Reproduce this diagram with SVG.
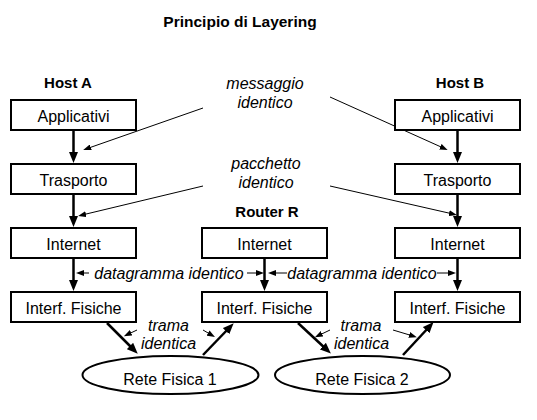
<svg xmlns="http://www.w3.org/2000/svg" width="537" height="420" viewBox="0 0 537 420">
<style>
.box{fill:#fff;stroke:#000;stroke-width:2}
.lbl{font-family:"Liberation Sans",Arial,sans-serif;font-size:16px;text-anchor:middle;fill:#000}
.hd{font-family:"Liberation Sans",Arial,sans-serif;font-size:15px;font-weight:bold;text-anchor:middle;fill:#000}
.it{font-family:"Liberation Sans",Arial,sans-serif;font-size:16px;font-style:italic;text-anchor:middle;fill:#000}
.thick{stroke:#000;stroke-width:2.5;fill:none;marker-end:url(#big)}
.thin{stroke:#000;stroke-width:1;fill:none;marker-end:url(#small)}
.ell{fill:#fff;stroke:#000;stroke-width:2}
</style>
<defs>
<marker id="big" markerUnits="userSpaceOnUse" markerWidth="11" markerHeight="9" refX="5" refY="4.5" orient="auto" viewBox="0 0 11 9">
<path d="M0,0 L11,4.5 L0,9 z" fill="#000"/>
</marker>
<marker id="small" markerUnits="userSpaceOnUse" markerWidth="8" markerHeight="6" refX="4" refY="3" orient="auto" viewBox="0 0 8 6">
<path d="M0,0 L8,3 L0,6 z" fill="#000"/>
</marker>
</defs>
<rect width="537" height="420" fill="#fff"/>
<text class="hd" x="240" y="27" style="font-size:15.5px">Principio di Layering</text>
<text class="hd" x="68" y="88">Host A</text>
<text class="hd" x="460" y="88">Host B</text>
<text class="hd" x="267" y="217">Router R</text>
<text class="it" x="265" y="89">messaggio</text>
<text class="it" x="265" y="108">identico</text>
<text class="it" x="266" y="169">pacchetto</text>
<text class="it" x="266" y="188">identico</text>
<text class="it" x="169" y="279">datagramma identico</text>
<text class="it" x="362" y="279">datagramma identico</text>
<text class="it" x="168.5" y="331">trama</text>
<text class="it" x="168.5" y="349">identica</text>
<text class="it" x="361" y="331">trama</text>
<text class="it" x="361.5" y="349">identica</text>

<g id="connectors">
<line class="thick" x1="73.5" y1="131" x2="73.5" y2="157"/>
<line class="thick" x1="73.5" y1="195" x2="73.5" y2="221"/>
<line class="thick" x1="73.5" y1="259" x2="73.5" y2="285"/>
<line class="thick" x1="264.5" y1="259" x2="264.5" y2="285"/>
<line class="thick" x1="457.5" y1="131" x2="457.5" y2="157"/>
<line class="thick" x1="457.5" y1="195" x2="457.5" y2="221"/>
<line class="thick" x1="457.5" y1="259" x2="457.5" y2="285"/>
<line class="thick" x1="107" y1="323" x2="133.5" y2="349.5"/>
<line class="thick" x1="203" y1="355" x2="229.5" y2="327.5"/>
<line class="thick" x1="298" y1="323" x2="326.5" y2="349.5"/>
<line class="thick" x1="403" y1="355" x2="429.5" y2="326.5"/>
<line class="thin" x1="203" y1="108" x2="87" y2="148.6"/>
<line class="thin" x1="330" y1="97" x2="444" y2="148.3"/>
<line class="thin" x1="203" y1="186" x2="82" y2="215"/>
<line class="thin" x1="330" y1="186" x2="453" y2="214"/>
<line class="thin" x1="89" y1="273" x2="80" y2="273"/>
<line class="thin" x1="247" y1="273" x2="260" y2="273"/>
<line class="thin" x1="287" y1="273" x2="272" y2="273"/>
<line class="thin" x1="437" y1="273" x2="452" y2="273"/>
<line class="thin" x1="137" y1="330" x2="127.5" y2="334.5"/>
<line class="thin" x1="203" y1="330" x2="211.5" y2="335"/>
<line class="thin" x1="330" y1="330" x2="318.5" y2="335.5"/>
<line class="thin" x1="393" y1="330" x2="413" y2="336"/>
</g>

<g id="hostA-app"><rect class="box" x="11" y="100" width="125" height="30"/><text class="lbl" x="73.5" y="122">Applicativi</text></g>
<g id="hostA-tr"><rect class="box" x="11" y="164" width="125" height="30"/><text class="lbl" x="73.5" y="186">Trasporto</text></g>
<g id="hostA-int"><rect class="box" x="11" y="228" width="125" height="30"/><text class="lbl" x="73.5" y="250">Internet</text></g>
<g id="hostA-phy"><rect class="box" x="11" y="292" width="125" height="30"/><text class="lbl" x="73.5" y="314">Interf. Fisiche</text></g>

<g id="router-int"><rect class="box" x="202" y="228" width="125" height="30"/><text class="lbl" x="264.5" y="250">Internet</text></g>
<g id="router-phy"><rect class="box" x="202" y="292" width="125" height="30"/><text class="lbl" x="264.5" y="314">Interf. Fisiche</text></g>

<g id="hostB-app"><rect class="box" x="395" y="100" width="125" height="30"/><text class="lbl" x="457.5" y="122">Applicativi</text></g>
<g id="hostB-tr"><rect class="box" x="395" y="164" width="125" height="30"/><text class="lbl" x="457.5" y="186">Trasporto</text></g>
<g id="hostB-int"><rect class="box" x="395" y="228" width="125" height="30"/><text class="lbl" x="457.5" y="250">Internet</text></g>
<g id="hostB-phy"><rect class="box" x="395" y="292" width="125" height="30"/><text class="lbl" x="457.5" y="314">Interf. Fisiche</text></g>

<g id="net1"><ellipse class="ell" cx="170.5" cy="375" rx="88" ry="19"/><text class="lbl" x="170" y="385">Rete Fisica 1</text></g>
<g id="net2"><ellipse class="ell" cx="362.5" cy="375" rx="87.5" ry="19"/><text class="lbl" x="362" y="385">Rete Fisica 2</text></g>
</svg>
